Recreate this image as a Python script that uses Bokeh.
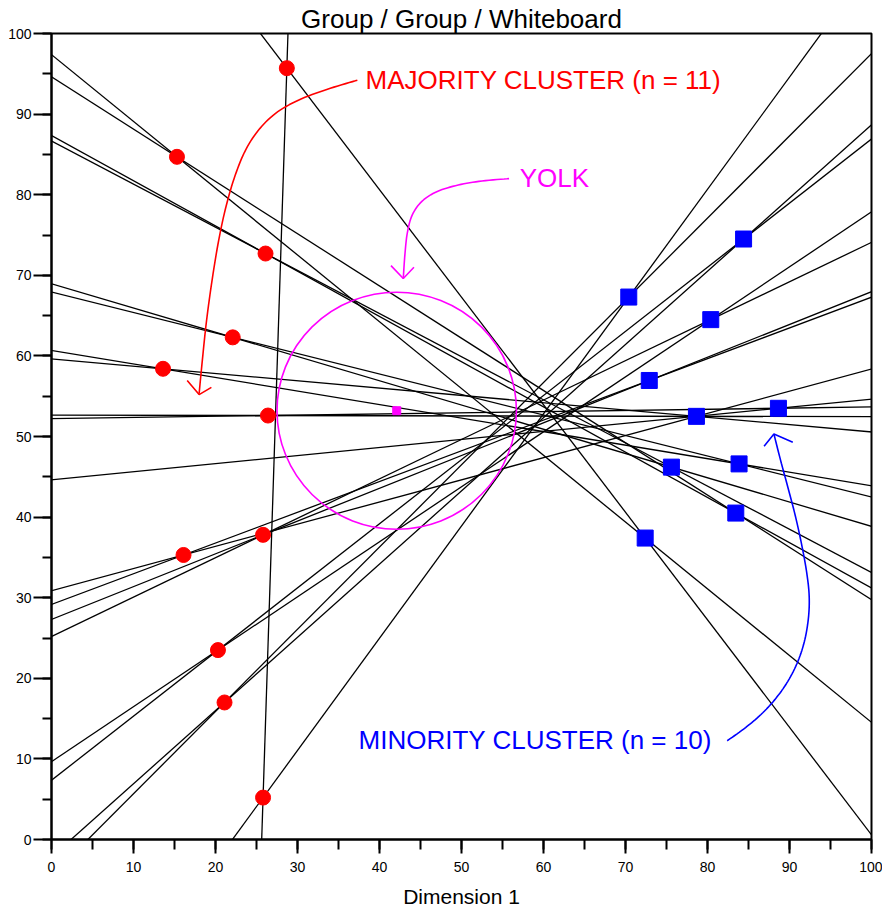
from bokeh.plotting import figure
from bokeh.models import Range1d, Label, SingleIntervalTicker
from bokeh.embed import file_html
from bokeh.resources import INLINE
import math

# ---------------- data ----------------
red_names = ["R1", "R2", "R3", "R4", "R5", "R6", "R7", "R8", "R9", "R10", "R11"]
red_x = [28.7, 15.3, 26.1, 22.1, 13.6, 26.4, 25.8, 16.1, 20.3, 21.1, 25.8]
red_y = [95.7, 84.7, 72.7, 62.3, 58.4, 52.6, 37.8, 35.3, 23.5, 17.0, 5.2]

blue_names = ["B1", "B2", "B3", "B4", "B5", "B6", "B7", "B8", "B9", "B10"]
blue_x = [84.4, 70.4, 80.4, 72.9, 88.65, 78.65, 75.6, 83.85, 83.45, 72.4]
blue_y = [74.5, 67.3, 64.5, 56.95, 53.5, 52.5, 46.2, 46.6, 40.5, 37.4]

# median lines, each through two ideal points
median_pairs = [
    ("R2", "B10"), ("R2", "B9"), ("R3", "B9"), ("R3", "B7"), ("R4", "B7"),
    ("R4", "B8"), ("R5", "B8"), ("R5", "B6"), ("R6", "B5"), ("R6", "B6"),
    ("B6", "B5"), ("R8", "B6"), ("R8", "B4"), ("R7", "B4"), ("R7", "B3"),
    ("R9", "B3"), ("R9", "B1"), ("R10", "B1"), ("R10", "B2"), ("R11", "B2"),
    ("R1", "B10"), ("R1", "R11"),
]

yolk_x = 42.1
yolk_y = 53.2
yolk_r = 14.6

tick_interval = 10
title_text = "Group / Group / Whiteboard"
x_label = "Dimension 1"

majority_text = "MAJORITY CLUSTER (n = 11)"
minority_text = "MINORITY CLUSTER (n = 10)"
yolk_text = "YOLK"

# annotation arrow paths (data units)
red_arrow_x = [37.3, 34.0, 30.5, 27.6, 25.4, 23.7, 22.4, 21.3, 20.4, 19.6, 18.9, 18.4, 18.0]
red_arrow_y = [94.2, 93.2, 91.9, 90.3, 88.2, 85.6, 82.4, 78.6, 74.4, 69.5, 64.3, 59.5, 55.3]
red_head_x = [16.55, 18.0, 19.5]
red_head_y = [56.96, 55.2, 56.1]

yolk_arrow_x = [55.8, 52.5, 49.6, 47.05, 45.2, 44.0, 43.4, 43.1, 42.9]
yolk_arrow_y = [82.0, 81.7, 81.2, 80.4, 79.2, 77.5, 75.3, 72.6, 69.6]
yolk_head_x = [41.4, 42.9, 44.2]
yolk_head_y = [71.2, 69.6, 71.0]

blue_arrow_x = [82.4, 84.4, 86.3, 88.0, 89.6, 90.9, 91.8, 92.3, 92.4, 92.1, 91.5, 90.7, 89.8, 88.9, 88.1]
blue_arrow_y = [12.25, 13.7, 15.3, 17.1, 19.3, 21.8, 24.5, 27.4, 30.2, 33.1, 36.5, 40.2, 43.7, 47.1, 50.3]
blue_head_x = [86.9, 88.1, 90.4]
blue_head_y = [48.8, 50.3, 49.3]


def smooth(xs, ys, n=8):
    """Catmull-Rom smoothing of an annotation path."""
    P = list(zip(xs, ys))
    P = [P[0]] + P + [P[-1]]
    ox, oy = [], []
    for i in range(1, len(P) - 2):
        p0, p1, p2, p3 = P[i - 1], P[i], P[i + 1], P[i + 2]
        for k in range(n):
            t = k / n
            t2, t3 = t * t, t * t * t
            ox.append(0.5 * ((2 * p1[0]) + (-p0[0] + p2[0]) * t + (2 * p0[0] - 5 * p1[0] + 4 * p2[0] - p3[0]) * t2 + (-p0[0] + 3 * p1[0] - 3 * p2[0] + p3[0]) * t3))
            oy.append(0.5 * ((2 * p1[1]) + (-p0[1] + p2[1]) * t + (2 * p0[1] - 5 * p1[1] + 4 * p2[1] - p3[1]) * t2 + (-p0[1] + 3 * p1[1] - 3 * p2[1] + p3[1]) * t3))
    ox.append(xs[-1]); oy.append(ys[-1])
    return ox, oy


# ---------------- build ----------------
pts = {}
for n, x, y in zip(red_names, red_x, red_y):
    pts[n] = (x, y)
for n, x, y in zip(blue_names, blue_x, blue_y):
    pts[n] = (x, y)

x0s, y0s, x1s, y1s = [], [], [], []
for a, b in median_pairs:
    (ax, ay), (bx, by) = pts[a], pts[b]
    dx, dy = bx - ax, by - ay
    L = math.hypot(dx, dy)
    dx, dy = dx / L, dy / L
    x0s.append(ax - 400 * dx); y0s.append(ay - 400 * dy)
    x1s.append(ax + 400 * dx); y1s.append(ay + 400 * dy)

p = figure(width=882, height=916, x_range=Range1d(0, 100), y_range=Range1d(0, 100),
           output_backend="svg", toolbar_location=None, title=title_text,
           min_border_left=51, min_border_right=11, min_border_top=33, min_border_bottom=77)
p.title.align = "center"
p.title.text_font = "Liberation Sans"
p.title.text_font_size = "26px"
p.title.text_font_style = "normal"
p.title.text_color = "black"
p.title.standoff = 0
p.title.offset = 0

p.background_fill_color = "white"
p.border_fill_color = "white"
p.outline_line_color = "black"
p.outline_line_width = 2
p.xgrid.visible = False
p.ygrid.visible = False

for ax in (p.xaxis[0], p.yaxis[0]):
    ax.ticker = SingleIntervalTicker(interval=tick_interval, num_minor_ticks=2)
    ax.axis_line_width = 2
    ax.axis_line_color = "black"
    ax.major_tick_line_width = 2
    ax.minor_tick_line_width = 2
    ax.major_tick_line_color = "black"
    ax.minor_tick_line_color = "black"
    ax.major_tick_in = 0
    ax.minor_tick_in = 0
    ax.major_label_text_font = "Liberation Sans"
    ax.major_label_text_font_size = "14px"
    ax.major_label_text_color = "black"

p.xaxis[0].major_tick_out = 14
p.xaxis[0].minor_tick_out = 10
p.xaxis[0].major_label_standoff = 8
p.xaxis[0].axis_label = x_label
p.xaxis[0].axis_label_text_font = "Liberation Sans"
p.xaxis[0].axis_label_text_font_size = "21px"
p.xaxis[0].axis_label_text_font_style = "normal"
p.xaxis[0].axis_label_text_color = "black"
p.xaxis[0].axis_label_standoff = 10

p.yaxis[0].major_tick_out = 18
p.yaxis[0].minor_tick_out = 9
p.yaxis[0].major_label_standoff = 2

# median lines
p.segment(x0=x0s, y0=y0s, x1=x1s, y1=y1s, line_color="black", line_width=1.3)

# yolk
p.ellipse(x=[yolk_x], y=[yolk_y], width=[2 * yolk_r], height=[2 * yolk_r * 1.007],
          fill_color=None, line_color="#ff00ff", line_width=1.6)
p.scatter(x=[yolk_x], y=[yolk_y], marker="square", size=8,
          fill_color="#ff00ff", line_color="#ff00ff")

# ideal points
p.scatter(x=red_x, y=red_y, marker="circle", size=15, fill_color="#ff0000", line_color="#ff0000")
p.scatter(x=blue_x, y=blue_y, marker="square", size=16, fill_color="#0000ff", line_color="#0000ff")

# annotation arrows
for (cx, cy), (hx, hy), col in (
    ((red_arrow_x, red_arrow_y), (red_head_x, red_head_y), "#ff0000"),
    ((yolk_arrow_x, yolk_arrow_y), (yolk_head_x, yolk_head_y), "#ff00ff"),
    ((blue_arrow_x, blue_arrow_y), (blue_head_x, blue_head_y), "#0000ff"),
):
    sx, sy = smooth(cx, cy)
    p.line(sx, sy, line_color=col, line_width=1.6)
    p.line(hx, hy, line_color=col, line_width=1.6)

# texts
p.add_layout(Label(x=38.3, y=94.25, text=majority_text, text_color="#ff0000",
                   text_font="Liberation Sans", text_font_size="26px",
                   text_baseline="alphabetic", text_align="left"))
p.add_layout(Label(x=57.1, y=82.1, text=yolk_text, text_color="#ff00ff",
                   text_font="Liberation Sans", text_font_size="26px",
                   text_baseline="alphabetic", text_align="left"))
p.add_layout(Label(x=37.45, y=12.3, text=minority_text, text_color="#0000ff",
                   text_font="Liberation Sans", text_font_size="26px",
                   text_baseline="alphabetic", text_align="left"))

open("out.html", "w").write(file_html(p, INLINE))
